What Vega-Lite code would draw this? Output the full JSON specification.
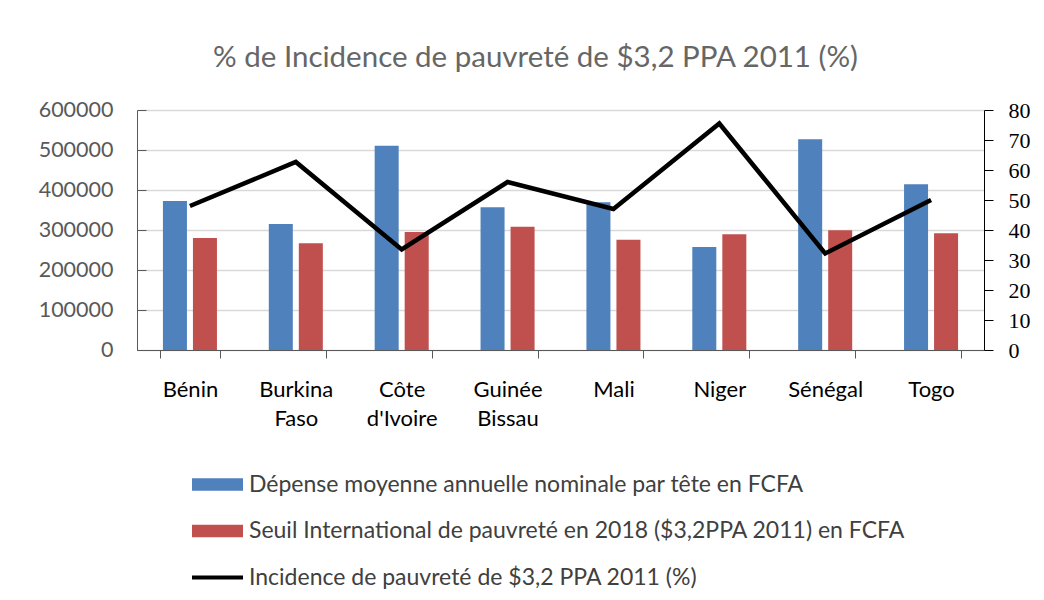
{
  "$schema": "https://vega.github.io/schema/vega-lite/v6.json",
  "width": 847,
  "height": 240,
  "autosize": "none",
  "padding": {"left": 137, "top": 110, "right": 60, "bottom": 250},
  "background": "white",
  "title": {
    "text": "% de Incidence de pauvreté de $3,2 PPA 2011 (%)",
    "font": "Lato",
    "fontSize": 29.5,
    "fontWeight": "normal",
    "color": "#666666",
    "anchor": "middle",
    "frame": "group",
    "baseline": "alphabetic",
    "offset": 3,
    "dx": -25
  },
  "datasets": {
    "bars": [
      {"pays": "Bénin", "serie": "Dépense moyenne annuelle nominale par tête en FCFA", "valeur": 372500},
      {"pays": "Bénin", "serie": "Seuil International de pauvreté en 2018 ($3,2PPA 2011) en FCFA", "valeur": 280000},
      {"pays": "Burkina Faso", "serie": "Dépense moyenne annuelle nominale par tête en FCFA", "valeur": 315000},
      {"pays": "Burkina Faso", "serie": "Seuil International de pauvreté en 2018 ($3,2PPA 2011) en FCFA", "valeur": 266700},
      {"pays": "Côte d'Ivoire", "serie": "Dépense moyenne annuelle nominale par tête en FCFA", "valeur": 510800},
      {"pays": "Côte d'Ivoire", "serie": "Seuil International de pauvreté en 2018 ($3,2PPA 2011) en FCFA", "valeur": 295000},
      {"pays": "Guinée Bissau", "serie": "Dépense moyenne annuelle nominale par tête en FCFA", "valeur": 356700},
      {"pays": "Guinée Bissau", "serie": "Seuil International de pauvreté en 2018 ($3,2PPA 2011) en FCFA", "valeur": 308300},
      {"pays": "Mali", "serie": "Dépense moyenne annuelle nominale par tête en FCFA", "valeur": 369200},
      {"pays": "Mali", "serie": "Seuil International de pauvreté en 2018 ($3,2PPA 2011) en FCFA", "valeur": 275800},
      {"pays": "Niger", "serie": "Dépense moyenne annuelle nominale par tête en FCFA", "valeur": 257500},
      {"pays": "Niger", "serie": "Seuil International de pauvreté en 2018 ($3,2PPA 2011) en FCFA", "valeur": 289200},
      {"pays": "Sénégal", "serie": "Dépense moyenne annuelle nominale par tête en FCFA", "valeur": 526700},
      {"pays": "Sénégal", "serie": "Seuil International de pauvreté en 2018 ($3,2PPA 2011) en FCFA", "valeur": 299200},
      {"pays": "Togo", "serie": "Dépense moyenne annuelle nominale par tête en FCFA", "valeur": 414200},
      {"pays": "Togo", "serie": "Seuil International de pauvreté en 2018 ($3,2PPA 2011) en FCFA", "valeur": 291700}
    ],
    "ligne": [
      {"pays": "Bénin", "serie": "Incidence de pauvreté  de $3,2 PPA 2011 (%)", "pct": 48},
      {"pays": "Burkina Faso", "serie": "Incidence de pauvreté  de $3,2 PPA 2011 (%)", "pct": 62.7},
      {"pays": "Côte d'Ivoire", "serie": "Incidence de pauvreté  de $3,2 PPA 2011 (%)", "pct": 33.5},
      {"pays": "Guinée Bissau", "serie": "Incidence de pauvreté  de $3,2 PPA 2011 (%)", "pct": 56},
      {"pays": "Mali", "serie": "Incidence de pauvreté  de $3,2 PPA 2011 (%)", "pct": 47},
      {"pays": "Niger", "serie": "Incidence de pauvreté  de $3,2 PPA 2011 (%)", "pct": 75.5},
      {"pays": "Sénégal", "serie": "Incidence de pauvreté  de $3,2 PPA 2011 (%)", "pct": 32.2},
      {"pays": "Togo", "serie": "Incidence de pauvreté  de $3,2 PPA 2011 (%)", "pct": 50}
    ]
  },
  "encoding": {
    "x": {
      "field": "pays",
      "type": "nominal",
      "sort": null,
      "title": null,
      "scale": {"paddingInner": 0.433, "paddingOuter": 0.2165},
      "axis": {
        "labelAngle": 0,
        "tickBand": "extent",
        "tickSize": 8,
        "tickColor": "#595959",
        "domainColor": "#595959",
        "labelPadding": 21,
        "labelFont": "Lato",
        "labelFontSize": 22,
        "labelColor": "#000000",
        "labelBaseline": "top",
        "labelLineHeight": 29,
        "labelExpr": "isValid(datum.value) ? split(datum.value, ' ') : ''",
        "grid": false
      }
    },
    "color": {
      "field": "serie",
      "type": "nominal",
      "scale": {
        "domain": [
          "Dépense moyenne annuelle nominale par tête en FCFA",
          "Seuil International de pauvreté en 2018 ($3,2PPA 2011) en FCFA",
          "Incidence de pauvreté  de $3,2 PPA 2011 (%)"
        ],
        "range": ["#4F81BD", "#C0504D", "#000000"]
      },
      "legend": {
        "title": null,
        "orient": "none",
        "legendX": 69,
        "legendY": 363,
        "direction": "vertical",
        "symbolSize": 144,
        "labelFont": "Lato",
        "labelFontSize": 23,
        "labelColor": "#404040",
        "labelOffset": 20,
        "labelLimit": 0,
        "rowPadding": 22.5,
        "encode": {
          "symbols": {
            "update": {
              "shape": {"signal": "datum.index === 2 ? 'M-4.25,-0.35H4.25V0.35H-4.25Z' : 'M-4.25,-1.05H4.25V1.05H-4.25Z'"},
              "fill": {"scale": "color", "field": "value"},
              "fillOpacity": {"value": 1},
              "stroke": {"value": "transparent"},
              "strokeWidth": {"value": 0}
            }
          }
        }
      }
    }
  },
  "layer": [
    {
      "data": {"name": "bars"},
      "mark": {"type": "bar"},
      "encoding": {
        "xOffset": {
          "field": "serie",
          "type": "nominal",
          "sort": [
            "Dépense moyenne annuelle nominale par tête en FCFA",
            "Seuil International de pauvreté en 2018 ($3,2PPA 2011) en FCFA"
          ],
          "scale": {"paddingInner": 0.2, "paddingOuter": 0.1}
        },
        "y": {
          "field": "valeur",
          "type": "quantitative",
          "title": null,
          "scale": {"domain": [0, 600000], "nice": false},
          "axis": {
            "orient": "left",
            "values": [0, 100000, 200000, 300000, 400000, 500000, 600000],
            "format": "d",
            "grid": true,
            "gridColor": "#d9d9d9",
            "gridWidth": 1.5,
            "domainColor": "#595959",
            "tickColor": "#595959",
            "tickSize": -9,
            "labelPadding": 33,
            "labelFont": "Lato",
            "labelFontSize": 21.5,
            "labelColor": "#595959"
          }
        }
      }
    },
    {
      "data": {"name": "ligne"},
      "mark": {"type": "line", "strokeWidth": 4.5, "strokeJoin": "miter"},
      "encoding": {
        "y": {
          "field": "pct",
          "type": "quantitative",
          "title": null,
          "scale": {"domain": [0, 80], "nice": false},
          "axis": {
            "orient": "right",
            "values": [0, 10, 20, 30, 40, 50, 60, 70, 80],
            "grid": false,
            "domainColor": "#000000",
            "tickColor": "#000000",
            "tickSize": 9,
            "labelPadding": 15,
            "labelFont": "Liberation Serif",
            "labelFontSize": 22,
            "labelColor": "#000000"
          }
        }
      }
    }
  ],
  "resolve": {"scale": {"y": "independent"}},
  "config": {
    "view": {"stroke": null}
  }
}
